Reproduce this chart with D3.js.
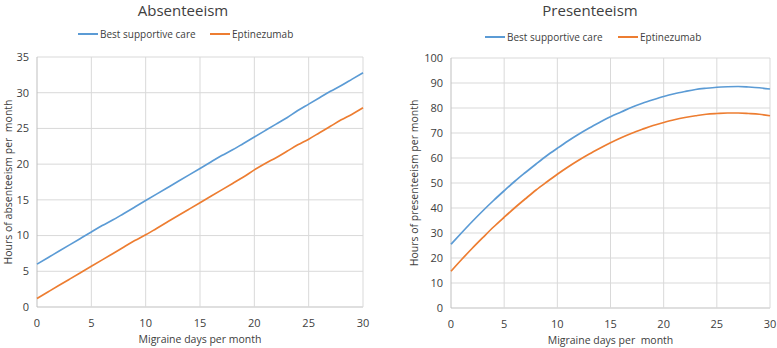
<!DOCTYPE html>
<html>
<head>
<meta charset="utf-8">
<script src="https://cdn.jsdelivr.net/npm/d3@7"></script>
<style>
    body { margin: 0; background: #fff; }
    svg { font-family: "Open Sans", "Noto Sans", sans-serif; }
    text { white-space: pre; fill: #404040; }
</style>
</head>
<body>
<svg id="svg" width="777" height="348"></svg>
<script>
// data
const days = d3.range(0, 31);
const absentBsc = [6.0, 6.9, 7.8, 8.7, 9.6, 10.5, 11.4, 12.2, 13.1, 14.0, 14.9, 15.8, 16.7, 17.6, 18.5, 19.4,
    20.3, 21.2, 22.0, 22.9, 23.8, 24.7, 25.6, 26.5, 27.5, 28.4, 29.3, 30.2, 31.0, 31.9, 32.8];
const absentEpti = [1.2, 2.1, 3.0, 3.9, 4.8, 5.7, 6.6, 7.5, 8.4, 9.3, 10.1, 11.0, 11.9, 12.8, 13.7, 14.6,
    15.5, 16.4, 17.3, 18.2, 19.2, 20.1, 20.9, 21.8, 22.7, 23.5, 24.4, 25.3, 26.2, 27.0, 27.9];
const presentBsc = [25.5, 30.1, 34.6, 38.9, 43.0, 46.9, 50.7, 54.2, 57.6, 60.9, 63.9, 66.8, 69.5, 72.0, 74.3, 76.5,
    78.4, 80.3, 81.9, 83.3, 84.6, 85.7, 86.6, 87.4, 87.9, 88.3, 88.5, 88.6, 88.4, 88.1, 87.6];
const presentEpti = [14.7, 19.4, 23.9, 28.2, 32.4, 36.3, 40.1, 43.7, 47.2, 50.4, 53.5, 56.4, 59.1, 61.6, 63.9, 66.1,
    68.1, 69.9, 71.5, 73.0, 74.2, 75.3, 76.2, 76.9, 77.5, 77.8, 78.0, 78.0, 77.8, 77.5, 76.9];
const seriesNames = ['Best supportive care', 'Eptinezumab'];
const seriesColors = ['#5b9bd5', '#ed7d31'];
const xTicks = [0, 5, 10, 15, 20, 25, 30];
const absentTicks = [0, 5, 10, 15, 20, 25, 30, 35];
const presentTicks = [0, 10, 20, 30, 40, 50, 60, 70, 80, 90, 100];

const svg = d3.select('#svg');

function panel(opt) {
    const g = svg.append('g');
    const x = d3.scaleLinear().domain([0, 30]).range([opt.left, opt.right]);
    const y = d3.scaleLinear().domain([0, opt.yMax]).range([opt.bottom, opt.top]);

    // grid
    g.append('g').selectAll('line.h')
        .data(opt.yTicks)
        .join('line')
        .attr('x1', opt.left).attr('x2', opt.right)
        .attr('y1', d => y(d)).attr('y2', d => y(d))
        .attr('stroke', d => d === 0 ? '#bfbfbf' : '#d9d9d9')
        .attr('stroke-width', 1);
    g.append('g').selectAll('line.v')
        .data(xTicks)
        .join('line')
        .attr('x1', d => x(d)).attr('x2', d => x(d))
        .attr('y1', opt.top).attr('y2', opt.bottom)
        .attr('stroke', d => d === 0 ? '#bfbfbf' : '#d9d9d9')
        .attr('stroke-width', 1);

    // tick labels
    g.append('g').selectAll('text')
        .data(opt.yTicks)
        .join('text')
        .attr('x', opt.left - 8)
        .attr('y', d => y(d))
        .attr('dy', '0.35em')
        .attr('text-anchor', 'end')
        .attr('font-size', 11)
        .text(d => d);
    g.append('g').selectAll('text')
        .data(xTicks)
        .join('text')
        .attr('x', d => x(d))
        .attr('y', opt.bottom + 16)
        .attr('dy', '0.35em')
        .attr('text-anchor', 'middle')
        .attr('font-size', 11)
        .text(d => d);

    // axis titles
    g.append('text')
        .attr('x', (opt.left + opt.right) / 2)
        .attr('y', opt.bottom + 32)
        .attr('dy', '0.35em')
        .attr('text-anchor', 'middle')
        .attr('font-size', 10.5)
        .text(opt.xTitle);
    g.append('text')
        .attr('transform', `translate(${opt.yTitleX},${(opt.top + opt.bottom) / 2}) rotate(-90)`)
        .attr('dy', '0.35em')
        .attr('text-anchor', 'middle')
        .attr('font-size', 10.5)
        .text(opt.yTitle);

    // title
    g.append('text')
        .attr('x', opt.titleX)
        .attr('y', 11)
        .attr('dy', '0.35em')
        .attr('text-anchor', 'middle')
        .attr('font-size', 15)
        .text(opt.title);

    // legend
    const leg = g.append('g').selectAll('g')
        .data(seriesNames)
        .join('g')
        .attr('transform', (d, i) => `translate(${opt.legendX[i]},${opt.legendY})`);
    leg.append('line')
        .attr('x1', 0).attr('x2', 20)
        .attr('stroke', (d, i) => seriesColors[i])
        .attr('stroke-width', 2);
    leg.append('text')
        .attr('x', 22)
        .attr('dy', '0.35em')
        .attr('font-size', 10)
        .text(d => d);

    // lines
    const line = d3.line()
        .x((d, i) => x(days[i]))
        .y(d => y(d))
        .curve(d3.curveMonotoneX);
    g.append('g').selectAll('path')
        .data(opt.series)
        .join('path')
        .attr('d', d => line(d))
        .attr('fill', 'none')
        .attr('stroke', (d, i) => seriesColors[i])
        .attr('stroke-width', 1.7);
}

panel({
    left: 37, right: 363, top: 57, bottom: 307,
    yMax: 35, yTicks: absentTicks,
    series: [absentBsc, absentEpti],
    title: 'Absenteeism', titleX: 183,
    legendX: [78, 210], legendY: 34,
    xTitle: 'Migraine days per month',
    yTitle: 'Hours of absenteeism per  month', yTitleX: 8
});

panel({
    left: 451, right: 770, top: 58, bottom: 308,
    yMax: 100, yTicks: presentTicks,
    series: [presentBsc, presentEpti],
    title: 'Presenteeism', titleX: 590,
    legendX: [485, 618], legendY: 37,
    xTitle: 'Migraine days per  month',
    yTitle: 'Hours of presenteeism per month', yTitleX: 414
});
</script>
</body>
</html>
